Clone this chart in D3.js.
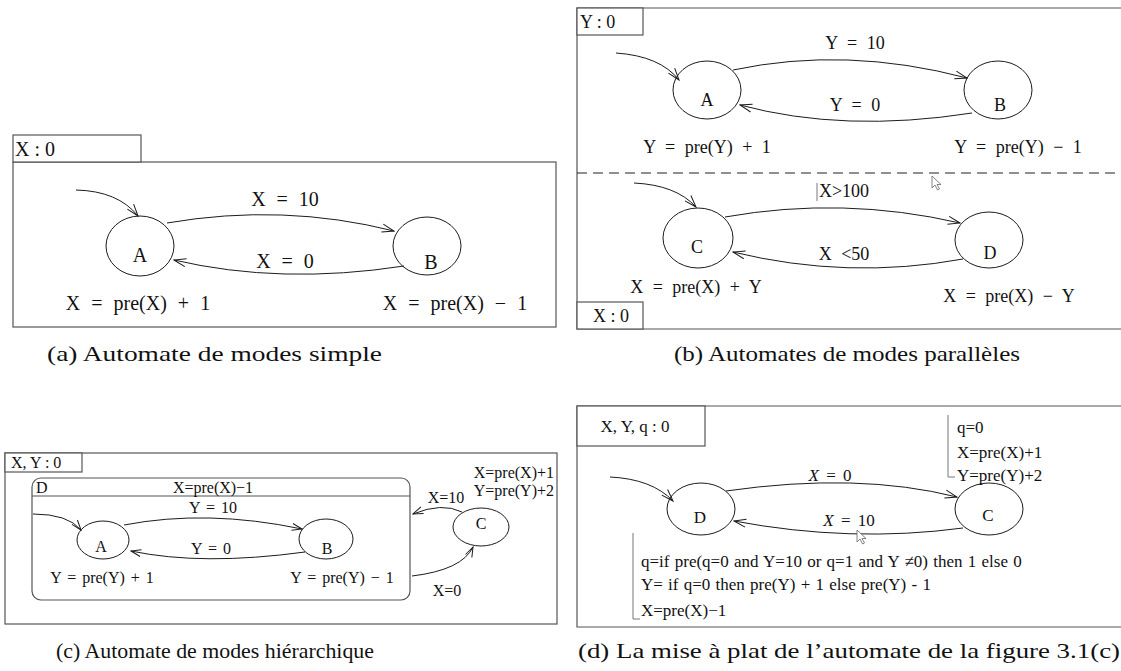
<!DOCTYPE html>
<html>
<head>
<meta charset="utf-8">
<script src="https://cdn.jsdelivr.net/npm/d3@7"></script>
<style>
  body { margin: 0; background: #fff; }
  svg { display: block; }
  text { font-family: "Liberation Serif", "Times New Roman", serif; fill: #111; }
</style>
</head>
<body>
<svg id="fig" width="1121" height="671"></svg>
<script>
// ---- content of the four automata ----
const simpleMemory = 'X : 0';
const simpleStates = ['A', 'B'];
const simpleGuards = ['X = 10', 'X = 0'];
const simpleEquations = ['X = pre(X) + 1', 'X = pre(X) − 1'];

const parallelMemory = ['Y : 0', 'X : 0'];
const parallelTopStates = ['A', 'B'];
const parallelTopGuards = ['Y = 10', 'Y = 0'];
const parallelTopEquations = ['Y = pre(Y) + 1', 'Y = pre(Y) − 1'];
const parallelBottomStates = ['C', 'D'];
const parallelBottomGuards = ['X>100', 'X <50'];
const parallelBottomEquations = ['X = pre(X) + Y', 'X = pre(X) − Y'];

const hierMemory = 'X, Y : 0';
const hierMacroState = 'D';
const hierMacroEquation = 'X=pre(X)−1';
const hierStates = ['A', 'B'];
const hierGuards = ['Y = 10', 'Y = 0'];
const hierEquations = ['Y = pre(Y) + 1', 'Y = pre(Y) − 1'];
const hierOuterState = ['C'];
const hierOuterGuards = ['X=10', 'X=0'];
const hierOuterEquations = ['X=pre(X)+1', 'Y=pre(Y)+2'];

const flatMemory = 'X, Y, q : 0';
const flatStates = ['D', 'C'];
const flatGuards = [['X', ' = 0'], ['X', ' = 10']];
const flatEquationsC = ['q=0', 'X=pre(X)+1', 'Y=pre(Y)+2'];
const flatEquationsD = [
  'q=if pre(q=0 and Y=10 or q=1 and Y \u22600) then 1 else 0',
  'Y= if q=0 then pre(Y) + 1 else pre(Y) - 1',
  'X=pre(X)\u22121'
];

const captions = [
  '(a) Automate de modes simple',
  '(b) Automates de modes parallèles',
  '(c) Automate de modes hiérarchique',
  '(d) La mise à plat de l\u2019automate de la figure 3.1(c)'
];

// ---- layout (pixel geometry of the figure) ----
const layoutA = {
  states: [{cx: 140, cy: 246, rx: 34, ry: 30, lx: 140, ly: 255}, {cx: 427, cy: 246, rx: 34, ry: 29, lx: 431, ly: 262}],
  edges: [[[167, 223], [283, 203], [394, 231]], [[404, 266], [281, 285], [174, 260]]],
  init: [[76, 190], [118, 191], [138, 216]],
  guards: [[285, 199], [285, 261]],
  eqs: [[138, 303], [455, 303]]
};
const layoutBTop = {
  states: [{cx: 707, cy: 90, rx: 34, ry: 29, lx: 707, ly: 100}, {cx: 998, cy: 90, rx: 34, ry: 29, lx: 1000, ly: 105}],
  edges: [[[733, 70], [846, 46], [967, 78]], [[972, 113], [844, 133], [740, 105]]],
  init: [[616, 53], [660, 56], [679, 80]],
  guards: [[855, 43], [855, 105]],
  eqs: [[707, 147], [1018, 147]]
};
const layoutBBottom = {
  states: [{cx: 698, cy: 238, rx: 35, ry: 30, lx: 697, ly: 247}, {cx: 989, cy: 240, rx: 34, ry: 28, lx: 990, ly: 253}],
  edges: [[[725, 217], [843, 196], [960, 223]], [[963, 259], [848, 280], [733, 252]]],
  init: [[634, 183], [676, 185], [696, 207]],
  guards: [[844, 191], [844, 254]],
  eqs: [[696, 287], [1009, 296]]
};
const layoutC = {
  states: [{cx: 103, cy: 540, rx: 26, ry: 19, lx: 101, ly: 546}, {cx: 326, cy: 539, rx: 27, ry: 20, lx: 327, ly: 548}],
  edges: [[[124, 525], [207, 509], [302, 529]], [[305, 552], [202, 566], [131, 551]]],
  init: [[33, 514], [68, 514], [81, 530]],
  guards: [[213, 507], [211, 548]],
  eqs: [[102, 577], [342, 577]],
  outer: {cx: 481, cy: 527, rx: 28, ry: 19, lx: 481, ly: 523},
  outerEdges: [[[462, 512], [442, 502], [413, 514]], [[412, 576], [462, 570], [473, 547]]],
  outerGuards: [[446, 497], [447, 590]]
};
const layoutD = {
  states: [{cx: 701, cy: 509, rx: 34, ry: 26, lx: 700, ly: 517}, {cx: 989, cy: 509, rx: 34, ry: 26, lx: 988, ly: 515}],
  edges: [[[726, 491], [858, 472], [957, 497]], [[963, 528], [851, 543], [734, 521]]],
  init: [[610, 477], [652, 479], [673, 501]],
  guards: [[830, 475], [849, 520]]
};

const svg = d3.select('#fig');
const ink = '#1c1c1c';
const frame = '#555';

const defs = svg.append('defs');
function addMarker(id, len, half) {
  defs.append('marker')
    .attr('id', id)
    .attr('viewBox', `${-len - 1} ${-half - 1} ${len + 2} ${2 * half + 2}`)
    .attr('refX', 0).attr('refY', 0)
    .attr('markerWidth', len + 2).attr('markerHeight', 2 * half + 2)
    .attr('markerUnits', 'userSpaceOnUse')
    .attr('orient', 'auto')
    .append('path')
    .attr('d', `M${-len},${-half} L0,0 L${-len},${half}`)
    .attr('fill', 'none').attr('stroke', ink).attr('stroke-width', 1);
}
addMarker('arrow', 12, 4);
addMarker('arrowSmall', 10, 3.5);

function curvePath(pts) {
  const p = d3.path();
  p.moveTo(pts[0][0], pts[0][1]);
  p.quadraticCurveTo(pts[1][0], pts[1][1], pts[2][0], pts[2][1]);
  return p.toString();
}

function drawStates(g, names, geo, size) {
  const s = g.selectAll(null)
    .data(names.map((n, i) => Object.assign({name: n}, geo[i])))
    .join('g');
  s.append('ellipse')
    .attr('cx', d => d.cx).attr('cy', d => d.cy)
    .attr('rx', d => d.rx).attr('ry', d => d.ry)
    .attr('fill', 'none').attr('stroke', ink).attr('stroke-width', 1);
  s.append('text')
    .attr('x', d => d.lx).attr('y', d => d.ly)
    .attr('text-anchor', 'middle').attr('dominant-baseline', 'central')
    .style('font-size', size + 'px')
    .text(d => d.name);
}

function drawEdges(g, curves, marker) {
  g.selectAll(null).data(curves).join('path')
    .attr('d', curvePath)
    .attr('fill', 'none').attr('stroke', ink).attr('stroke-width', 1)
    .attr('marker-end', `url(#${marker})`);
}

function drawTexts(g, texts, pos, size, anchor, spacing) {
  g.selectAll(null).data(texts).join('text')
    .attr('x', (d, i) => pos[i][0]).attr('y', (d, i) => pos[i][1])
    .attr('text-anchor', anchor || 'middle').attr('dominant-baseline', 'central')
    .style('font-size', size + 'px')
    .style('word-spacing', (spacing || 0) + 'px')
    .style('white-space', 'pre')
    .text(d => d);
}

function memoryBox(g, x, y, w, h, label, tx, anchor, size) {
  g.append('rect').attr('x', x).attr('y', y).attr('width', w).attr('height', h)
    .attr('fill', '#fff').attr('stroke', frame).attr('stroke-width', 1.2);
  g.append('text').attr('x', tx).attr('y', y + h / 2)
    .attr('text-anchor', anchor).attr('dominant-baseline', 'central')
    .style('font-size', size + 'px').text(label);
}

function automaton(g, states, guards, eqs, lay, fs, ws) {
  drawStates(g, states, lay.states, fs);
  drawEdges(g, lay.edges, 'arrow');
  drawEdges(g, [lay.init], 'arrow');
  drawTexts(g, guards, lay.guards, fs, 'middle', ws);
  if (eqs) drawTexts(g, eqs, lay.eqs, fs, 'middle', ws);
}

function cursor(g, x, y) {
  g.append('path')
    .attr('transform', `translate(${x},${y})`)
    .attr('d', 'M0,0 L0,12 L3,9 L5.5,14 L7.5,13 L5,8.5 L9,8.5 Z')
    .attr('fill', '#fff').attr('stroke', '#666').attr('stroke-width', 0.8);
}

// ---- (a) simple ----
const gA = svg.append('g');
gA.append('rect').attr('x', 13).attr('y', 162).attr('width', 543).attr('height', 165)
  .attr('fill', 'none').attr('stroke', frame).attr('stroke-width', 1.2);
memoryBox(gA, 13, 135, 128, 27, simpleMemory, 15, 'start', 20);
automaton(gA, simpleStates, simpleGuards, simpleEquations, layoutA, 20, 6);

// ---- (b) parallel ----
const gB = svg.append('g');
gB.append('path').attr('d', 'M1125,8 L577,8 L577,329 L1125,329')
  .attr('fill', 'none').attr('stroke', frame).attr('stroke-width', 1.2);
gB.append('line').attr('x1', 577).attr('x2', 1121).attr('y1', 173).attr('y2', 173)
  .attr('stroke', '#222').attr('stroke-width', 1.2).attr('stroke-dasharray', '10 6');
memoryBox(gB, 577, 8, 66, 27, parallelMemory[0], 580, 'start', 18);
memoryBox(gB, 577, 302, 66, 27, parallelMemory[1], 611, 'middle', 18);
automaton(gB, parallelTopStates, parallelTopGuards, parallelTopEquations, layoutBTop, 18, 5);
automaton(gB, parallelBottomStates, parallelBottomGuards, parallelBottomEquations, layoutBBottom, 18, 5);
gB.append('line').attr('x1', 817).attr('x2', 817).attr('y1', 183).attr('y2', 201)
  .attr('stroke', '#555').attr('stroke-width', 0.8);
cursor(gB, 932, 176);

// ---- (c) hierarchical ----
const gC = svg.append('g');
gC.append('rect').attr('x', 5).attr('y', 453).attr('width', 552).attr('height', 171)
  .attr('fill', 'none').attr('stroke', frame).attr('stroke-width', 1.2);
memoryBox(gC, 5, 453, 77, 19, hierMemory, 11, 'start', 16);
gC.append('rect').attr('x', 32).attr('y', 478).attr('width', 378).attr('height', 122).attr('rx', 9)
  .attr('fill', 'none').attr('stroke', frame).attr('stroke-width', 1.2);
gC.append('line').attr('x1', 32).attr('x2', 410).attr('y1', 496).attr('y2', 496)
  .attr('stroke', frame).attr('stroke-width', 1.2);
gC.append('text').attr('x', 36).attr('y', 487).attr('dominant-baseline', 'central')
  .style('font-size', '16px').text(hierMacroState);
gC.append('text').attr('x', 213).attr('y', 487).attr('text-anchor', 'middle').attr('dominant-baseline', 'central')
  .style('font-size', '16px').text(hierMacroEquation);
drawStates(gC, hierStates, layoutC.states, 16);
drawEdges(gC, layoutC.edges, 'arrowSmall');
drawEdges(gC, [layoutC.init], 'arrowSmall');
drawTexts(gC, hierGuards, layoutC.guards, 16, 'middle', 2);
drawTexts(gC, hierEquations, layoutC.eqs, 16, 'middle', 2);
drawStates(gC, hierOuterState, [layoutC.outer], 16);
drawEdges(gC, layoutC.outerEdges, 'arrowSmall');
drawTexts(gC, hierOuterGuards, layoutC.outerGuards, 16, 'middle', 0);
drawTexts(gC, hierOuterEquations, [[554, 472], [554, 490]], 16, 'end', 0);

// ---- (d) flattened ----
const gD = svg.append('g');
gD.append('path').attr('d', 'M1125,406 L577,406 L577,627 L1125,627')
  .attr('fill', 'none').attr('stroke', frame).attr('stroke-width', 1.2);
memoryBox(gD, 577, 406, 128, 40, flatMemory, 635, 'middle', 17);
drawStates(gD, flatStates, layoutD.states, 17);
drawEdges(gD, layoutD.edges, 'arrow');
drawEdges(gD, [layoutD.init], 'arrow');
gD.selectAll(null).data(flatGuards).join('text')
  .attr('x', (d, i) => layoutD.guards[i][0]).attr('y', (d, i) => layoutD.guards[i][1])
  .attr('text-anchor', 'middle').attr('dominant-baseline', 'central')
  .style('font-size', '17px').style('word-spacing', '3px').style('white-space', 'pre')
  .each(function (d) {
    d3.select(this).append('tspan').style('font-style', 'italic').text(d[0]);
    d3.select(this).append('tspan').text(d[1]);
  });
gD.append('path').attr('d', 'M948,415 L948,477 L955,477')
  .attr('fill', 'none').attr('stroke', '#777').attr('stroke-width', 1);
drawTexts(gD, flatEquationsC, [[957, 427], [957, 452], [957, 475]], 17, 'start', 0);
gD.append('path').attr('d', 'M633,533 L633,619 L640,619')
  .attr('fill', 'none').attr('stroke', '#777').attr('stroke-width', 1);
drawTexts(gD, flatEquationsD, [[641, 561], [641, 584], [641, 610]], 17, 'start', 1);
cursor(gD, 857, 530);

// ---- captions ----
const captionPos = [[47, 353, 335], [674, 353, 346], [56, 650, 318], [578, 650, 542]];
svg.append('g').selectAll('text').data(captions).join('text')
  .attr('x', (d, i) => captionPos[i][0]).attr('y', (d, i) => captionPos[i][1])
  .attr('dominant-baseline', 'central')
  .attr('textLength', (d, i) => captionPos[i][2])
  .attr('lengthAdjust', 'spacingAndGlyphs')
  .style('font-size', '22px')
  .text(d => d);
</script>
</body>
</html>
